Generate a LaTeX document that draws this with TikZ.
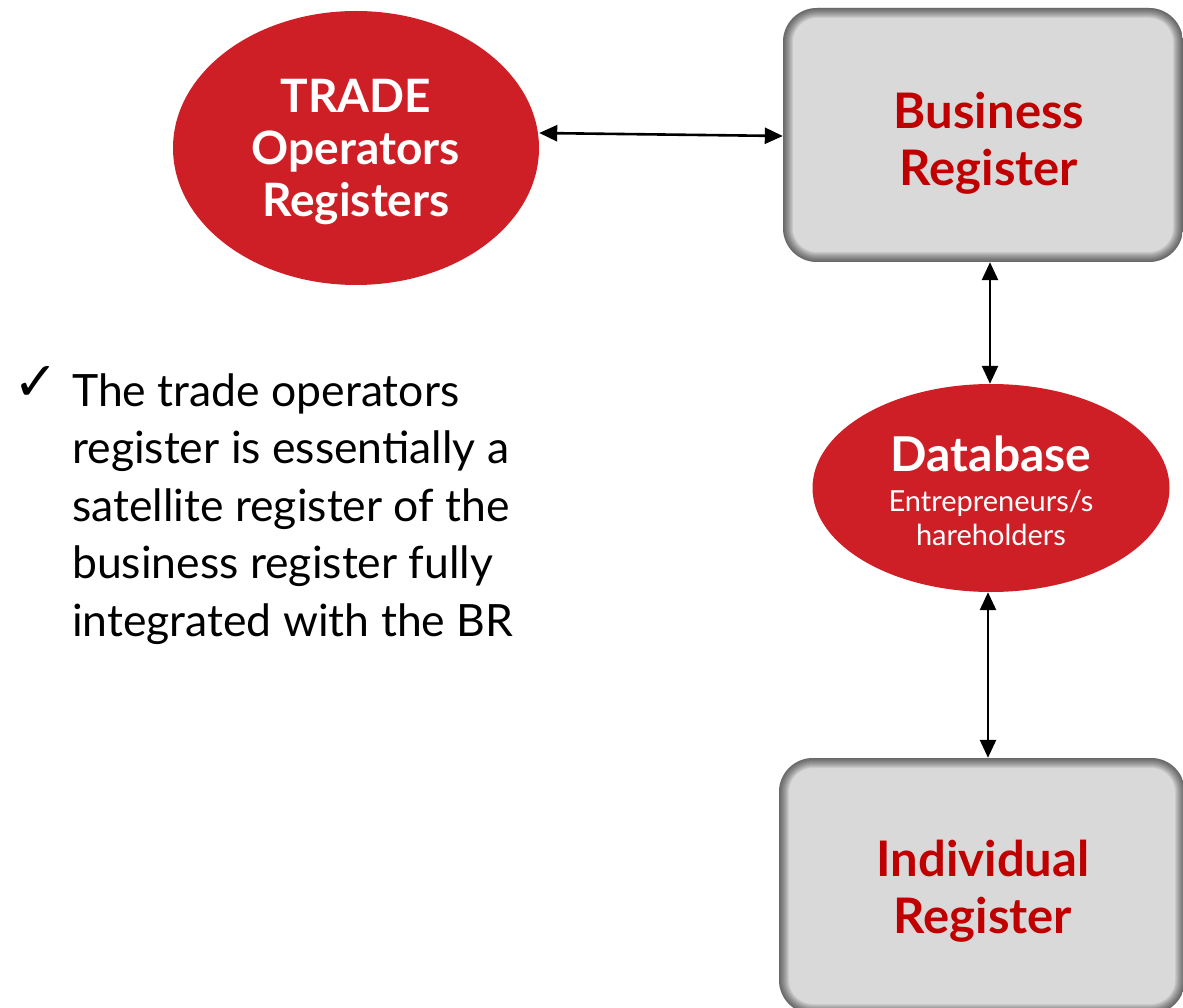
\documentclass[tikz,border=0pt]{standalone}
\usepackage{fontspec}
\setmainfont{Lato}
\newfontfamily\symfont{DejaVu Sans}
\usetikzlibrary{shapes.geometric,arrows.meta}

\definecolor{regred}{HTML}{CF1F26}
\definecolor{titlered}{HTML}{C00000}
\definecolor{boxgray}{HTML}{D9D9D9}

\tikzset{
  redoval/.style={ellipse, fill=regred, inner sep=0pt, text=white, align=center},
  graybox/.style={rectangle, rounded corners=34pt, fill=boxgray, inner sep=0pt,
    path picture={
      \foreach \w in {2,4,...,20}{
        \draw[black, opacity=0.065, line width=\w pt, rounded corners=34pt]
          (path picture bounding box.south west) rectangle
          (path picture bounding box.north east);
      }
    }},
  boxtitle/.style={text=titlered, align=center, inner sep=0pt,
    font=\fontsize{49}{57}\selectfont\bfseries},
  link/.style={{Triangle[length=18pt,width=16pt]}-{Triangle[length=18pt,width=16pt]},
    line width=2.6pt, black},
  bullettext/.style={anchor=base west, inner sep=0pt, font=\fontsize{44.5}{57}\selectfont}
}

\begin{document}
\begin{tikzpicture}[x=1pt, y=-1pt]
  \useasboundingbox (0,0) rectangle (1183,1008);

  % registers and database
  \node[redoval, minimum width=366pt, minimum height=274pt] (trade) at (356,148) {};
  \node[text=white, align=center, inner sep=0pt,
        font=\fontsize{46}{52}\selectfont\bfseries] (tradetext) at (356,152)
        {TRADE\\Operators\\Registers};

  \node[graybox, minimum width=400pt, minimum height=254pt] (br) at (983,135) {};
  \node[boxtitle] (brtext) at (989,143) {Business\\Register};

  \node[redoval, minimum width=357pt, minimum height=208pt] (db) at (991,488) {};
  \node[text=white, align=center, inner sep=0pt,
        font=\fontsize{29}{34}\selectfont] (dbtext) at (991,491)
        {{\fontsize{48}{50}\selectfont\bfseries Database}\\[6pt]
         Entrepreneurs/s\\
         hareholders};

  \node[graybox, minimum width=406pt, minimum height=256pt] (ir) at (982,886) {};
  \node[boxtitle] (irtext) at (983,891) {Individual\\Register};

  % links between the registers
  \draw[link] (trade.east |- 0,133) -- (br.west |- 0,136);
  \draw[link] (br.south -| 990,0) -- (db.north -| 990,0);
  \draw[link] (db.south -| 988,0) -- (ir.north -| 988,0);

  % explanatory bullet
  \node[anchor=base west, inner sep=0pt, font=\fontsize{54}{54}\symfont] (tick) at (13,400) {✓};
  \foreach \t [count=\i] in {The trade operators,
      register is essentially a,
      satellite register of the,
      business register fully,
      integrated with the BR}{
    \node[bullettext] (line\i) at (72,{406+57.5*(\i-1)}) {\t};
  }
\end{tikzpicture}
\end{document}
